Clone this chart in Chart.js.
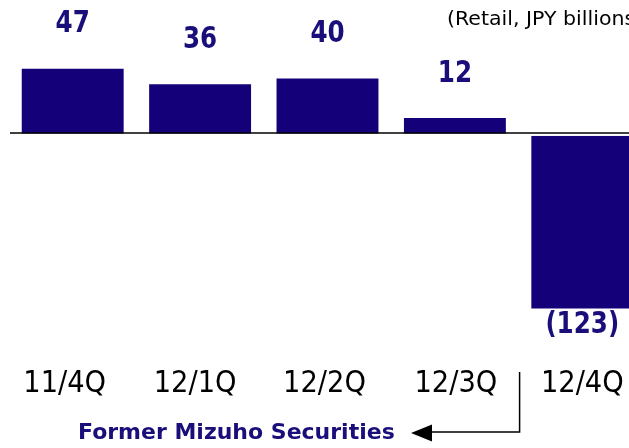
<!DOCTYPE html>
<html>
<head>
<meta charset="utf-8">
<script src="https://cdn.jsdelivr.net/npm/chart.js@4/dist/chart.umd.min.js"></script>
<style>
html,body{margin:0;padding:0;background:#fff;overflow:hidden;}
#wrap{width:646px;height:448px;}
</style>
</head>
<body>
<div id="wrap"><canvas id="c" width="646" height="448"></canvas></div>
<script>
const categories = ['11/4Q','12/1Q','12/2Q','12/3Q','12/4Q'];
const values = [47, 36, 40, 12, -123];
const valueLabels = ['47','36','40','12','(123)'];
const unitNote = '(Retail, JPY billions)';
const annotation = 'Former Mizuho Securities';

const NAVY = '#140078';
const labelShift = [-8, -5, -3, 1, 0];

function drawScaled(ctx, text, x, y, sx) {
  ctx.save();
  ctx.translate(x, y);
  ctx.scale(sx, 1);
  ctx.fillText(text, 0, 0);
  ctx.restore();
}

const overlay = {
  id: 'overlay',
  afterDatasetsDraw(chart) {
    const ctx = chart.ctx;
    const x = chart.scales.x, y = chart.scales.y;
    const meta = chart.getDatasetMeta(0);
    const y0 = y.getPixelForValue(0);
    ctx.save();
    // white gap under the axis line
    ctx.fillStyle = '#fff';
    ctx.fillRect(0, y0 - 1.5, chart.width, 2.5);
    // baseline
    ctx.strokeStyle = '#000';
    ctx.lineWidth = 1.5;
    ctx.beginPath();
    ctx.moveTo(10, y0 - 2);
    ctx.lineTo(chart.width, y0 - 2);
    ctx.stroke();
    // value labels
    ctx.fillStyle = '#1a0f7a';
    ctx.font = 'bold 30px "DejaVu Sans"';
    ctx.textAlign = 'center';
    ctx.textBaseline = 'middle';
    meta.data.forEach((bar, i) => {
      const v = values[i];
      const ty = v >= 0 ? bar.y - 44 : bar.y + 17;
      drawScaled(ctx, valueLabels[i], bar.x, ty, 0.82);
    });
    // category labels
    ctx.fillStyle = '#000';
    ctx.font = '30px "DejaVu Sans"';
    categories.forEach((c, i) => {
      drawScaled(ctx, c, x.getPixelForValue(i) + labelShift[i], 384, 0.91);
    });
    // unit note
    ctx.font = '19px "DejaVu Sans"';
    ctx.textAlign = 'left';
    drawScaled(ctx, unitNote, 447, 20, 1.08);
    // divider + arrow
    const xd = (x.getPixelForValue(3) + x.getPixelForValue(4)) / 2 + 1;
    ctx.strokeStyle = '#000';
    ctx.lineWidth = 1.5;
    ctx.beginPath();
    ctx.moveTo(xd, 372);
    ctx.lineTo(xd, 432);
    ctx.lineTo(428, 432);
    ctx.stroke();
    ctx.fillStyle = '#000';
    ctx.beginPath();
    ctx.moveTo(411, 433);
    ctx.lineTo(432, 424.5);
    ctx.lineTo(432, 441.5);
    ctx.closePath();
    ctx.fill();
    // annotation
    ctx.fillStyle = '#1a0f7a';
    ctx.font = 'bold 22px "DejaVu Sans"';
    ctx.textAlign = 'left';
    ctx.fillText(annotation, 78, 433);
    ctx.restore();
  }
};

new Chart(document.getElementById('c'), {
  type: 'bar',
  data: {
    labels: categories,
    datasets: [{
      data: values,
      backgroundColor: NAVY,
      borderWidth: 0,
      barPercentage: 0.8,
      categoryPercentage: 1.0
    }]
  },
  options: {
    responsive: false,
    animation: false,
    layout: { padding: { left: 9, right: 0, top: 0, bottom: 0 } },
    plugins: { legend: { display: false }, tooltip: { enabled: false } },
    scales: {
      x: { display: false, offset: true, grid: { display: false } },
      y: { display: false, min: -222, max: 95.7, grid: { display: false } }
    }
  },
  plugins: [overlay]
});
</script>
</body>
</html>
